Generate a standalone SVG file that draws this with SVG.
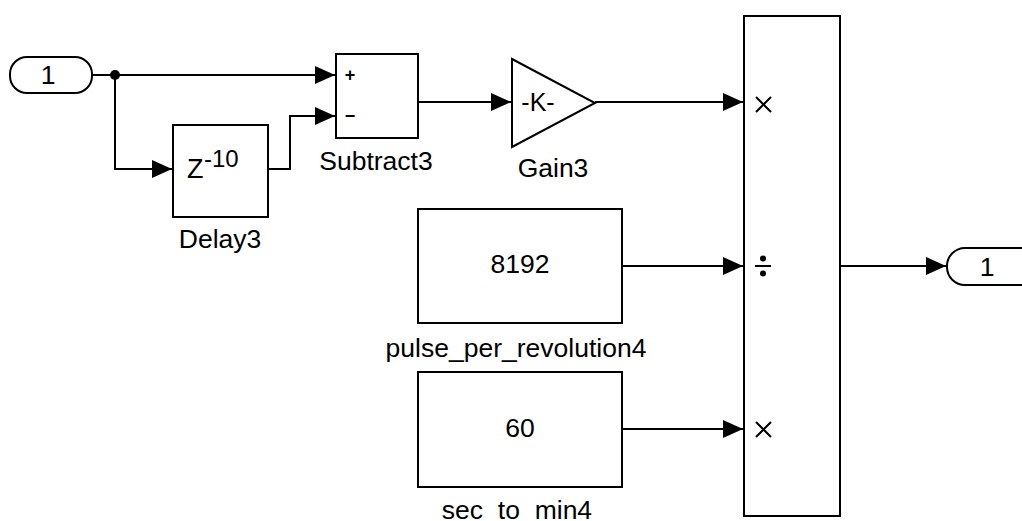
<svg xmlns="http://www.w3.org/2000/svg" width="1022" height="521" viewBox="0 0 1022 521">
<style>
.b{fill:#fff;stroke:#000;stroke-width:2}
.w{fill:none;stroke:#000;stroke-width:2}
text{font-family:"Liberation Sans",Arial,sans-serif;fill:#000}
.l{font-size:26.5px;text-anchor:middle}
</style>
<defs>
<marker id="a" markerUnits="userSpaceOnUse" markerWidth="20" markerHeight="20" viewBox="0 0 20 20" refX="20" refY="10" orient="auto">
<path d="M0,1 L20,10 L0,19 Z" fill="#000"/>
</marker>
</defs>
<rect width="1022" height="521" fill="#fff"/>
<g id="connectors">
<path class="w" d="M92,75 H335" marker-end="url(#a)"/>
<path class="w" d="M115,75 V169 H172" marker-end="url(#a)"/>
<path class="w" d="M268,169 H290 V116 H335" marker-end="url(#a)"/>
<path class="w" d="M418,102 H511" marker-end="url(#a)"/>
<path class="w" d="M595,102 H743" marker-end="url(#a)"/>
<path class="w" d="M622,266 H743" marker-end="url(#a)"/>
<path class="w" d="M622,429 H743" marker-end="url(#a)"/>
<path class="w" d="M840,266 H946" marker-end="url(#a)"/>
<circle cx="115" cy="75" r="5" fill="#000"/>
</g>
<g id="In1">
<rect class="b" x="10" y="57" width="82" height="36" rx="17"/>
<text class="l" x="48" y="84">1</text>
</g>
<g id="Delay3">
<rect class="b" x="173" y="125" width="95" height="92"/>
<text x="187" y="178" font-size="27">Z</text>
<text x="204" y="167" font-size="24">-10</text>
<text class="l" x="220" y="248">Delay3</text>
</g>
<g id="Subtract3">
<rect class="b" x="336" y="54" width="82" height="84"/>
<text x="350" y="81" font-size="18" text-anchor="middle" font-weight="bold">+</text>
<text x="350" y="122" font-size="18" text-anchor="middle" font-weight="bold">−</text>
<text class="l" x="376" y="170">Subtract3</text>
</g>
<g id="Gain3">
<path class="b" d="M512,59 L595,103 L512,147 Z"/>
<text x="538" y="111" font-size="25" text-anchor="middle">-K-</text>
<text class="l" x="553" y="177">Gain3</text>
</g>
<g id="pulse_per_revolution4">
<rect class="b" x="418" y="209" width="204" height="114"/>
<text class="l" x="520" y="273">8192</text>
<text class="l" x="516" y="357">pulse_per_revolution4</text>
</g>
<g id="sec_to_min4">
<rect class="b" x="418" y="372" width="204" height="115"/>
<text class="l" x="520" y="437">60</text>
<text class="l" x="517" y="519">sec_to_min4</text>
</g>
<g id="Product">
<rect class="b" x="744" y="16" width="96" height="500"/>
<path class="w" d="M756,97 L771,112 M771,97 L756,112"/>
<path class="w" d="M755,266 H771"/>
<circle cx="763" cy="258.5" r="3" fill="#000"/>
<circle cx="763" cy="273.5" r="3" fill="#000"/>
<path class="w" d="M756,422 L771,437 M771,422 L756,437"/>
</g>
<g id="Out1">
<rect class="b" x="947" y="248" width="100" height="37" rx="18"/>
<text class="l" x="987" y="276">1</text>
</g>
</svg>
